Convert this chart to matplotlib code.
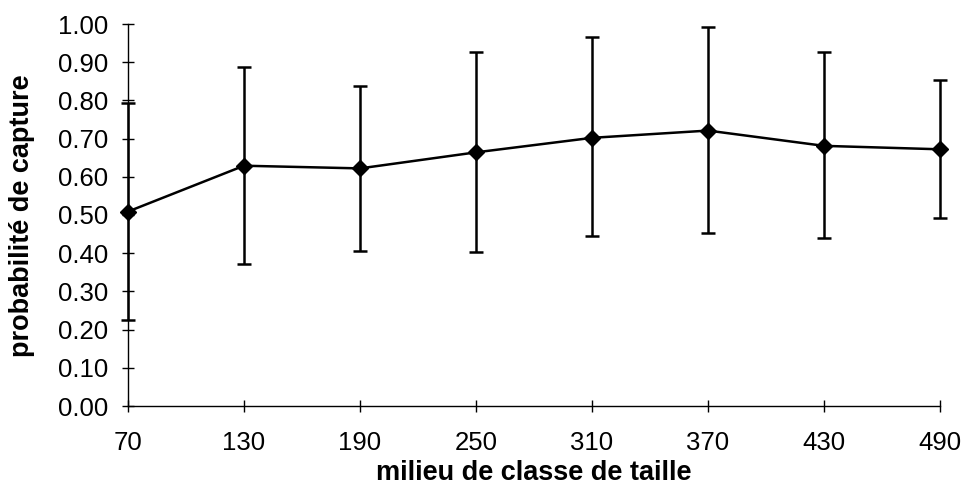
import matplotlib.pyplot as plt
import numpy as np

plt.rcParams['font.family'] = ['Liberation Sans', 'DejaVu Sans']

# milieu de classe de taille
classes = [70, 130, 190, 250, 310, 370, 430, 490]
proba = [0.509, 0.629, 0.622, 0.664, 0.702, 0.721, 0.681, 0.672]
borne_sup = [0.792, 0.887, 0.838, 0.926, 0.965, 0.993, 0.926, 0.853]
borne_inf = [0.225, 0.373, 0.407, 0.404, 0.445, 0.454, 0.441, 0.491]

p = np.array(proba)
err = [p - np.array(borne_inf), np.array(borne_sup) - p]

fig = plt.figure(figsize=(9.67, 5.04), dpi=100)
ax = fig.add_axes([128 / 967, 98 / 504, 812 / 967, 382 / 504])

ax.errorbar(classes, proba, yerr=err, color='black', lw=1.8, elinewidth=1.8,
            capsize=5, capthick=1.8, marker='D', markersize=8, clip_on=False,
            zorder=3)

ax.set_xlim(70, 490)
ax.set_ylim(0, 1)
ax.set_xticks(classes)
ax.set_yticks(np.arange(0, 1.01, 0.1))
ax.set_yticklabels(['%.2f' % v for v in np.arange(0, 1.01, 0.1)])
ax.spines['top'].set_visible(False)
ax.spines['right'].set_visible(False)
ax.spines['left'].set_linewidth(1)
ax.spines['bottom'].set_linewidth(1)
ax.tick_params(direction='inout', length=8, width=1, labelsize=18.5)
ax.tick_params(axis='y', pad=10)
ax.tick_params(axis='x', pad=14)

ax.set_xlabel("milieu de classe de taille", fontsize=19.5, fontweight='bold')
ax.set_ylabel("probabilité de capture", fontsize=19.5, fontweight='bold')
ax.xaxis.set_label_coords(0.5, -0.141)
ax.yaxis.set_label_coords(-0.114, 0.497)

plt.savefig("out.png", dpi=100)
